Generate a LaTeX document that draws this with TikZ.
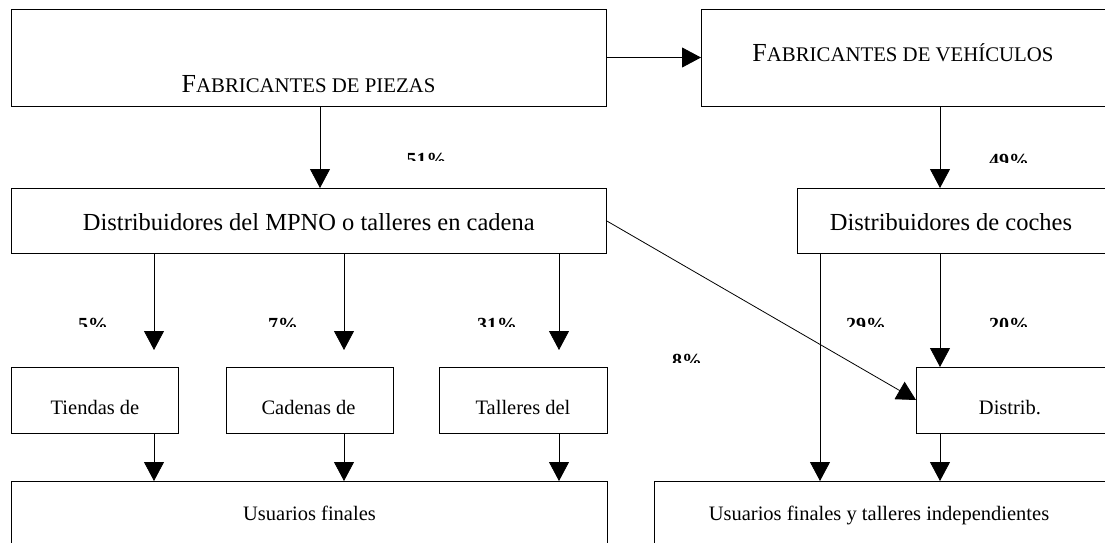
\documentclass[tikz,border=0pt]{standalone}
\usepackage{fontspec}
\setmainfont{Liberation Serif}
\usetikzlibrary{arrows.meta}
\begin{document}
\begin{tikzpicture}[x=1pt,y=-1pt,
  box/.style={draw=black,line width=0.9pt,rectangle,inner sep=0pt,outer sep=0pt},
  conn/.style={line width=0.8pt,-{Triangle[length=19pt,width=20pt]}},
  big/.style={font=\fontsize{24.5}{28}\selectfont,inner sep=0pt,anchor=base},
  small/.style={font=\fontsize{20.5}{24}\selectfont,inner sep=0pt,anchor=base},
  head/.style={font=\fontsize{26}{30}\selectfont,inner sep=0pt,anchor=base},
  pct/.style={font=\fontsize{20}{24}\selectfont\bfseries,inner sep=0pt,anchor=base}]
\useasboundingbox (0,0) rectangle (1105,543);
\clip (0,0) rectangle (1105,543);
\fill[white] (0,0) rectangle (1105,543);
% boxes
\node[box,minimum width=595pt,minimum height=97pt] (piezas) at (308.5,57.5) {};
\node[box,minimum width=409pt,minimum height=97pt] (veh) at (905.5,57.5) {};
\node[box,minimum width=595pt,minimum height=65pt] (mpno) at (308.5,220.5) {};
\node[box,minimum width=313pt,minimum height=65pt] (coches) at (953.5,220.5) {};
\node[box,minimum width=167pt,minimum height=66pt] (tiendas) at (94.5,400) {};
\node[box,minimum width=167pt,minimum height=66pt] (cadenas) at (309.5,400) {};
\node[box,minimum width=168pt,minimum height=66pt] (talleres) at (523,400) {};
\node[box,minimum width=194pt,minimum height=66pt] (distrib) at (1013,400) {};
\node[box,minimum width=596pt,minimum height=99pt] (usu1) at (309,530.5) {};
\node[box,minimum width=456pt,minimum height=99pt] (usu2) at (882,530.5) {};
% texts
\node[head] (tpiezas) at (308.5,92.7) {F{\fontsize{20.8}{24}\selectfont ABRICANTES DE PIEZAS}};
\node[head] (tveh) at (903,61.7) {F{\fontsize{20.8}{24}\selectfont ABRICANTES DE VEHÍCULOS}};
\node[big] (tmpno) at (308.8,230) {Distribuidores del MPNO o talleres en cadena};
\node[big] (tcoches) at (951,230) {Distribuidores de coches};
\node[small] (ttiendas) at (95,414.5) {Tiendas de};
\node[small] (tcadenas) at (308.5,414.5) {Cadenas de};
\node[small] (ttalleres) at (523,414.5) {Talleres del};
\node[small] (tdistrib) at (1010,414.5) {Distrib.};
\node[small] (tusu1) at (309.5,520) {Usuarios finales};
\node[small] (tusu2) at (879,520) {Usuarios finales y talleres independientes};
% column coordinates
\coordinate (cA) at (320,0);
\coordinate (cB) at (940,0);
\coordinate (e1) at (154,350);
\coordinate (e2) at (344,350);
\coordinate (e3) at (559,350);
\coordinate (c4) at (820,0);
% connectors
\draw[conn] (piezas.east) -- (veh.west);
\draw[conn] (piezas.south -| cA) -- (mpno.north -| cA);
\draw[conn] (veh.south -| cB) -- (coches.north -| cB);
\draw[conn] (mpno.south -| e1) -- (e1);
\draw[conn] (mpno.south -| e2) -- (e2);
\draw[conn] (mpno.south -| e3) -- (e3);
\draw[conn] (tiendas.south -| e1) -- (usu1.north -| e1);
\draw[conn] (cadenas.south -| e2) -- (usu1.north -| e2);
\draw[conn] (talleres.south -| e3) -- (usu1.north -| e3);
\draw[conn] (coches.south -| c4) -- (usu2.north -| c4);
\draw[conn] (coches.south -| cB) -- (distrib.north -| cB);
\draw[conn] (distrib.south -| cB) -- (usu2.north -| cB);
\draw[conn] (mpno.east) -- (distrib.west);
% percentage labels (cut at the bottom, as in the reference)
\begin{scope}\clip (380,140) rectangle (480,160.7);
\node[pct] (p51) at (426.7,166.2) {51\%};\end{scope}
\begin{scope}\clip (960,140) rectangle (1060,162);
\node[pct] (p49) at (1009,167.5) {49\%};\end{scope}
\begin{scope}\clip (50,300) rectangle (140,326);
\node[pct] (p5) at (93,331.5) {5\%};\end{scope}
\begin{scope}\clip (240,300) rectangle (330,326);
\node[pct] (p7) at (283,331.5) {7\%};\end{scope}
\begin{scope}\clip (450,300) rectangle (545,326);
\node[pct] (p31) at (497,331.5) {31\%};\end{scope}
\begin{scope}\clip (825,300) rectangle (910,326);
\node[pct] (p29) at (866,331.5) {29\%};\end{scope}
\begin{scope}\clip (965,300) rectangle (1055,326);
\node[pct] (p20) at (1009,331.5) {20\%};\end{scope}
\begin{scope}\clip (640,340) rectangle (735,362);
\node[pct] (p8) at (687,367) {8\%};\end{scope}
\end{tikzpicture}
\end{document}
